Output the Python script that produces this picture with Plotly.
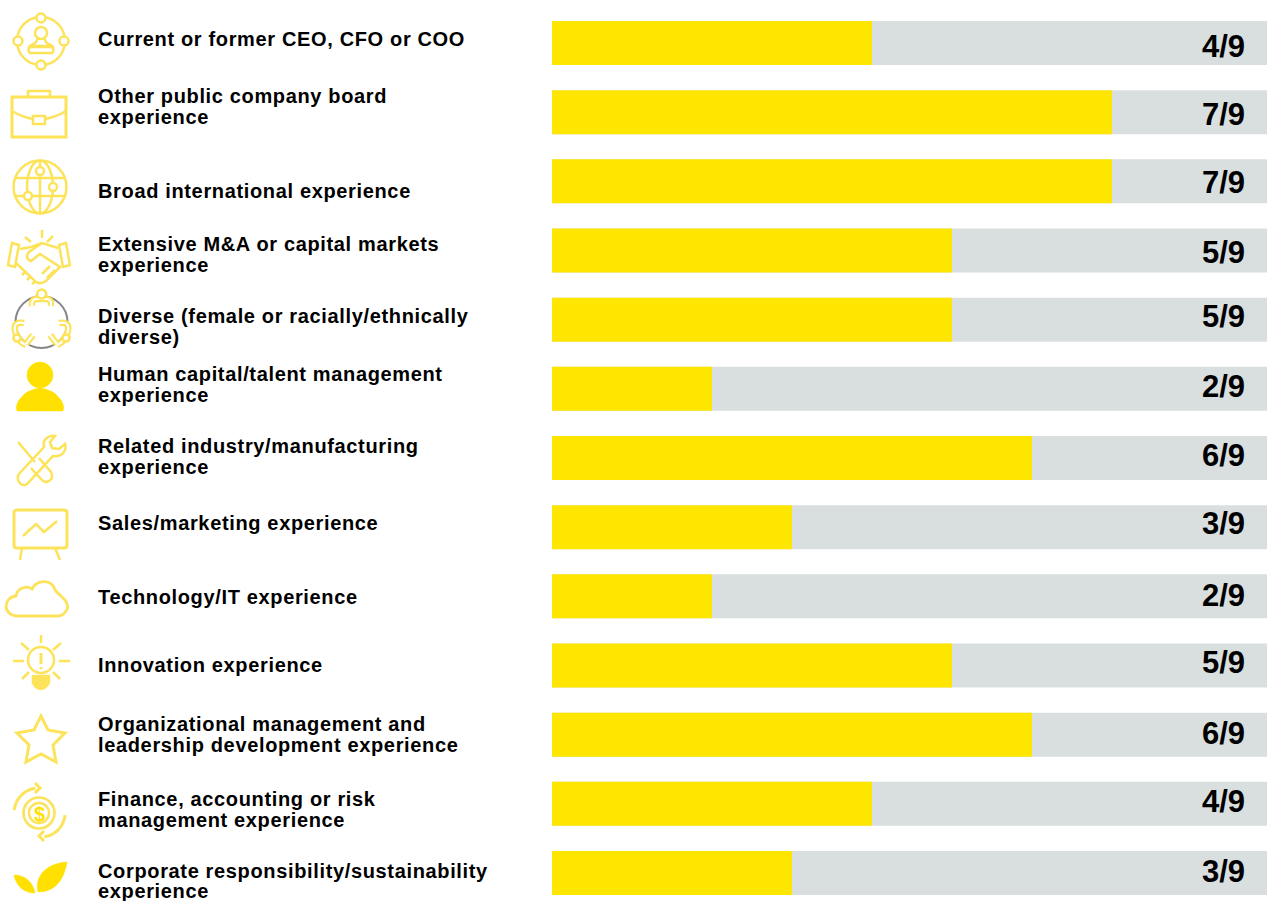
import math
import plotly.graph_objects as go

# Skills matrix: how many of the nine directors hold each qualification
skill_lines = [
    ["Current or former CEO, CFO or COO"],
    ["Other public company board", "experience"],
    ["Broad international experience"],
    ["Extensive M&A or capital markets", "experience"],
    ["Diverse (female or racially/ethnically", "diverse)"],
    ["Human capital/talent management", "experience"],
    ["Related industry/manufacturing", "experience"],
    ["Sales/marketing experience"],
    ["Technology/IT experience"],
    ["Innovation experience"],
    ["Organizational management and", "leadership development experience"],
    ["Finance, accounting or risk", "management experience"],
    ["Corporate responsibility/sustainability", "experience"],
]
directors = [4, 7, 7, 5, 5, 2, 6, 3, 2, 5, 6, 4, 3]
board_size = 9

# Page geometry, in pixels
W, H = 1267, 901
BAR_LEFT = 552
PX_PER_DIRECTOR = 80
ROW_TOP = 43
ROW_STEP = 69.17
BAR_PX = 44

# Vertical centre of each text line, per row
label_y = [[39], [96, 117], [191], [244, 265], [316, 337], [374, 395], [446, 467],
           [523], [597], [665], [724, 745], [799, 820], [871, 891]]
value_y = [46, 114, 182, 252, 316, 386, 455, 523, 595, 662, 733, 801, 871]

YELLOW = "#FFE600"
GREY = "#D9DFDF"
ICON = "#FCE35A"
ICON_SOLID = "#FFE000"
WHITE = "#FFFFFF"

rows = [" ".join(lines) for lines in skill_lines]
n = len(rows)

fig = go.Figure()
fig.add_bar(y=rows, x=[board_size] * n, orientation="h", marker_color=GREY,
            marker_line_width=0, width=BAR_PX / ROW_STEP, hoverinfo="skip")
fig.add_bar(y=rows, x=directors, orientation="h", marker_color=YELLOW,
            marker_line_width=0, width=BAR_PX / ROW_STEP)
# Transparent trace that keeps the pixel-space axes alive
fig.add_scatter(x=[0, W], y=[0, H], xaxis="x2", yaxis="y2", mode="markers",
                marker_opacity=0, hoverinfo="skip", showlegend=False)

annotations = []
for lines, ys in zip(skill_lines, label_y):
    for text, y in zip(lines, ys):
        annotations.append(dict(x=95.5, y=y, xref="x2", yref="y2",
                                text=f'<span style="letter-spacing:0.65px">{text.replace("&", "&amp;")}</span>',
                                showarrow=False, xanchor="left", yanchor="middle",
                                font=dict(family="Liberation Sans", size=20, color="#000000", weight="bold")))
for value, y in zip(directors, value_y):
    annotations.append(dict(x=1247, y=y, xref="x2", yref="y2", text=f"{value}/{board_size}",
                            showarrow=False, xanchor="right", yanchor="middle",
                            font=dict(family="Liberation Sans", size=31, color="#000000", weight="bold")))

shapes = []


def stroke(path, width=2.5, color=ICON):
    shapes.append(dict(type="path", path=path, xref="x2", yref="y2", layer="above",
                       line=dict(color=color, width=width), fillcolor="rgba(0,0,0,0)"))


def solid(path, color=ICON_SOLID):
    shapes.append(dict(type="path", path=path, xref="x2", yref="y2", layer="above",
                       line=dict(color=color, width=0.5), fillcolor=color))


def ring(cx, cy, r, width=2.5, color=ICON, fill="rgba(0,0,0,0)"):
    shapes.append(dict(type="circle", x0=cx - r, x1=cx + r, y0=cy - r, y1=cy + r, xref="x2", yref="y2",
                       layer="above", line=dict(color=color, width=width), fillcolor=fill))


def arc(cx, cy, r, a0, a1, ry=None, steps=28):
    ry = r if ry is None else ry
    pts = []
    for i in range(steps + 1):
        a = math.radians(a0 + (a1 - a0) * i / steps)
        pts.append((cx + r * math.cos(a), cy + ry * math.sin(a)))
    return "M " + " L ".join(f"{x:.1f} {y:.1f}" for x, y in pts)


# Executive: ring with four nodes around a seated figure
for a0, a1 in [(-78, -12), (12, 78), (102, 168), (192, 258)]:
    stroke(arc(41, 41, 24, a0, a1))
for cx, cy in [(41, 18), (41, 65), (18, 41), (64, 41)]:
    ring(cx, cy, 4.5)
ring(41, 33, 6)
stroke("M 37 39 C 37 44 32 44 30 46 L 52 46 C 50 44 45 44 45 39")
stroke("M 30 47 L 52 47 Q 55 50 52 53 L 30 53 Q 27 50 30 47 Z")

# Briefcase
stroke("M 12 97 L 66 97 L 66 137 L 12 137 Z", 3)
stroke("M 28 97 L 28 91 L 50 91 L 50 97")
stroke("M 12 111 Q 22 117 33 119 M 45 119 Q 56 117 66 111")
stroke("M 33 116 L 45 116 L 45 124 L 33 124 Z")

# Globe
ring(40, 187, 26.5)
stroke(arc(40, 187, 13, -90, 270, ry=26.5))
stroke("M 40 161 L 40 213 M 15 178 L 65 178 M 15 196 L 65 196")
for cx, cy in [(40, 171), (53, 187), (28, 196)]:
    ring(cx, cy, 4, fill=WHITE)

# Handshake
stroke("M 12 243 L 19 245 L 15 267 L 8 265 Z")
stroke("M 66 243 L 59 245 L 63 267 L 70 265 Z")
stroke("M 25 237 L 31 242 M 42 230 L 42 238 M 53 236 L 47 242")
stroke("M 20 249 L 31 247 L 42 243 L 58 248")
stroke("M 42 243 L 29 252 Q 24 258 31 261 L 40 254 L 60 267 L 46 281 Q 38 286 33 279 L 16 263")
stroke("M 26 271 L 22 275 M 31 276 L 27 280 M 36 281 L 32 284 M 50 266 L 42 274 M 55 270 L 47 278")

# Circle of people: grey ring, then thick yellow figures with a white core
ring(41.5, 322, 26, 2, "#85858A")


def figure(path):
    stroke(path, 6.5)
    stroke(path, 2.2, WHITE)


for mirror in (False, True):
    def mx(x):
        return 83 - x if mirror else x
    figure(f"M {mx(24)} 323 Q {mx(13)} 321 {mx(15)} 331 Q {mx(17)} 341 {mx(26)} 345")
    figure(f"M {mx(33)} 335 L {mx(26)} 344")
    ring(mx(17), 338, 3.5, 2.6, ICON, WHITE)
figure("M 32 306 Q 31 299 37 299 L 46 299 Q 52 299 51 306")
ring(41.7, 294, 4.5, 2.6, ICON, WHITE)

# Person, filled
ring(40, 375, 13, 0.5, ICON_SOLID, ICON_SOLID)
solid("M 17 411 Q 15 406 19 400 Q 27 389 40 388 Q 53 389 61 400 Q 65 406 63 411 Z")

# Crossed tools
stroke("M 19 474 L 44 447 C 42 440 48 435 55 436 L 50 442 L 52 448 L 59 449 L 65 444 "
       "C 67 450 62 458 53 456 L 27 484 C 22 488 15 480 19 474 Z")
stroke("M 18 442 L 35 462 M 39 458 L 51 472 Q 54 478 49 481 Q 45 484 41 479 L 31 468")

# Presentation board
stroke("M 17 510 L 64 510 Q 67 510 67 513 L 67 545 Q 67 548 64 548 L 17 548 Q 14 548 14 545 "
       "L 14 513 Q 14 510 17 510 Z", 3)
stroke("M 23 536 L 36 524 L 44 532 L 57 521")
stroke("M 22 548 L 20 560 M 55 548 L 60 560")

# Cloud
stroke("M 18 616 C 2 616 3 597 16 596 C 17 588 27 585 32 589 C 37 579 52 579 55 590 "
       "C 60 596 72 603 66 611 Q 63 616 58 616 Z", 2.8)

# Light bulb
ring(41, 660, 13)
stroke("M 41 635 L 41 643 M 13 661 L 24 661 M 59 661 L 70 661 "
       "M 21 643 L 29 650 M 61 643 L 53 650 M 22 679 L 29 672 M 60 679 L 53 672")
stroke("M 41 653 L 41 664 M 41 667 L 41 669", 3)
solid("M 32 675 L 50 675 L 50 683 Q 46 690 41 690 Q 35 690 32 683 Z", ICON)

# Star
stroke("M 41 716 L 48 730 L 65 733 L 53 745 L 56 762 L 41 754 L 26 762 L 29 745 L 17 733 L 34 730 Z", 3)

# Coin with circling arrows
ring(39, 813, 15.5, 2.6)
ring(39, 813, 10, 2.4)
annotations.append(dict(x=39, y=813.5, xref="x2", yref="y2", text="$", showarrow=False,
                        font=dict(family="Liberation Sans", size=20, color=ICON_SOLID, weight="bold")))
stroke(arc(39, 813, 25, 187, 262), 3)
stroke("M 35 783 L 40 788 L 35 793", 3)
stroke(arc(41, 813, 24, 5, 82), 3)
stroke("M 44 831 L 39 836 L 44 841", 3)

# Leaves, filled
solid("M 38 892 C 34 875 48 863 67 862 C 64 880 55 892 38 892 Z")
solid("M 35 893 C 33 882 25 875 14 875 C 16 886 24 893 35 893 Z")

fig.update_layout(
    width=W, height=H, autosize=False,
    margin=dict(l=0, r=0, t=0, b=0),
    paper_bgcolor=WHITE, plot_bgcolor="rgba(0,0,0,0)",
    barmode="overlay", showlegend=False,
    xaxis=dict(domain=[BAR_LEFT / W, 1], range=[0, (W - BAR_LEFT) / PX_PER_DIRECTOR],
               visible=False, fixedrange=True),
    yaxis=dict(domain=[0, 1], type="category", categoryorder="array", categoryarray=rows,
               range=[(H - ROW_TOP) / ROW_STEP, -ROW_TOP / ROW_STEP], visible=False, fixedrange=True),
    xaxis2=dict(domain=[0, 1], range=[0, W], visible=False, fixedrange=True, anchor="y2"),
    yaxis2=dict(domain=[0, 1], range=[H, 0], visible=False, fixedrange=True, anchor="x2"),
    annotations=annotations, shapes=shapes,
)

fig.write_html("out.html", config={"displayModeBar": False})
